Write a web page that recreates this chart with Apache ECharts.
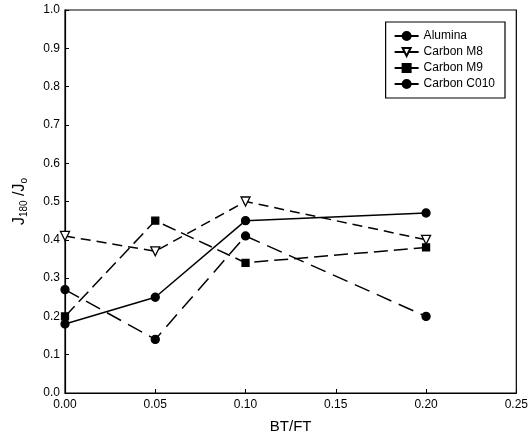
<!DOCTYPE html>
<html>
<head>
<meta charset="utf-8">
<script src="https://cdn.jsdelivr.net/npm/echarts@6/dist/echarts.min.js"></script>
<style>
  html, body { margin: 0; padding: 0; background: #fff; }
  #chart { width: 531px; height: 439px; }
</style>
</head>
<body>
<div id="chart"></div>
<script>
// data
var ratio = [0.00, 0.05, 0.10, 0.20];
var alumina = [0.18, 0.25, 0.45, 0.47];
var carbonM8 = [0.41, 0.37, 0.50, 0.40];
var carbonM9 = [0.20, 0.45, 0.34, 0.38];
var carbonC010 = [0.27, 0.14, 0.41, 0.20];
var xTicks = [0, 0.25, 0.05];  // min, max, step
var yTicks = [0, 1.0, 0.1];

var font = "'Liberation Sans Narrow', 'Liberation Sans', Arial, sans-serif";

function pairs(ys) {
  return ratio.map(function (x, i) { return [x, ys[i]]; });
}

function makeSeries(name, ys, symbol, size, dash, hollow, rotate) {
  return {
    name: name,
    type: 'line',
    data: pairs(ys),
    symbol: symbol,
    symbolSize: size,
    symbolRotate: rotate || 0,
    lineStyle: { color: '#000', width: 1.5, type: dash },
    itemStyle: { color: hollow ? '#fff' : '#000', borderColor: '#000', borderWidth: 1.3 },
    emphasis: { disabled: true }
  };
}

var chart = echarts.init(document.getElementById('chart'));
chart.setOption({
  animation: false,
  textStyle: { fontFamily: font, color: '#000' },
  grid: { left: 65, right: 11, top: 10, bottom: 45, show: true, borderColor: '#000', borderWidth: 1.2 },
  legend: {
    orient: 'vertical',
    right: 26,
    top: 22,
    borderColor: '#000',
    borderWidth: 1.2,
    padding: [8, 10, 8, 8],
    itemGap: 4,
    itemWidth: 24,
    itemHeight: 10,
    lineStyle: { type: 'solid' },
    textStyle: { fontFamily: font, fontSize: 12, color: '#000' },
    data: ['Alumina', 'Carbon M8', 'Carbon M9', 'Carbon C010']
  },
  xAxis: {
    type: 'value',
    min: xTicks[0], max: xTicks[1], interval: xTicks[2],
    name: 'BT/FT',
    nameLocation: 'middle',
    nameGap: 26,
    nameTextStyle: { fontSize: 15, fontFamily: font, color: '#000' },
    axisLine: { lineStyle: { color: '#000', width: 1.2 } },
    axisTick: { inside: true, length: 4, lineStyle: { color: '#000' } },
    axisLabel: { fontSize: 12, color: '#000', margin: 6, formatter: function (v) { return v.toFixed(2); } },
    splitLine: { show: false }
  },
  yAxis: {
    type: 'value',
    min: yTicks[0], max: yTicks[1], interval: yTicks[2],
    name: '{m|J}{s|180}{m| /J}{s|o}',
    nameLocation: 'middle',
    nameGap: 36,
    nameTextStyle: {
      rich: {
        m: { fontSize: 16, fontFamily: font, color: '#000' },
        s: { fontSize: 10, fontFamily: font, color: '#000', padding: [8, 0, 0, 0] }
      }
    },
    axisLine: { lineStyle: { color: '#000', width: 1.2 } },
    axisTick: { inside: true, length: 4, lineStyle: { color: '#000' } },
    axisLabel: { fontSize: 12, color: '#000', margin: 5, formatter: function (v) { return v.toFixed(1); } },
    splitLine: { show: false }
  },
  series: [
    makeSeries('Alumina', alumina, 'circle', 8, 'solid', false),
    makeSeries('Carbon M8', carbonM8, 'triangle', 9, [10, 6], true, 180),
    makeSeries('Carbon M9', carbonM9, 'rect', 7, [14, 6], false),
    makeSeries('Carbon C010', carbonC010, 'circle', 8, [16, 8], false)
  ]
});
</script>
</body>
</html>
